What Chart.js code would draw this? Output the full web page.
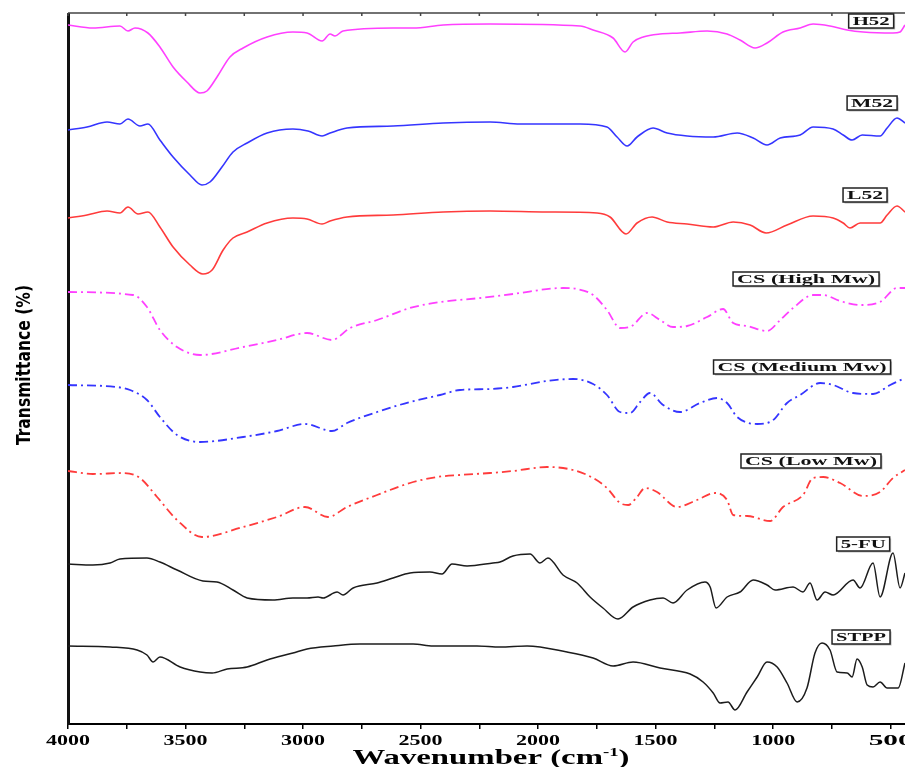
<!DOCTYPE html>
<html>
<head>
<meta charset="utf-8">
<script src="https://cdn.jsdelivr.net/npm/chart.js@4.4.0/dist/chart.umd.min.js"></script>
<style>
    html, body { margin: 0; padding: 0; background: #fff; }
    #wrap { width: 905px; height: 767px; position: relative; }
</style>
</head>
<body>
<div id="wrap"><canvas id="grafico"></canvas></div>
<script>
// Wavenumbers (cm-1) and stacked transmittance values (offset units)
const h52Wn = [4000,3894,3779,3745,3715,3660,3609,3553,3494,3438,3409,3366,3311,3255,3153,3043,2983,2919,2885,2864,2830,2617,2532,2404,2204,1821,1766,1681,1630,1596,1553,1481,1396,1281,1196,1141,1077,1026,958,885,830,758,685,617,490,460,439];
const h52T  = [699,696,698,693,696,691,677,657,642,631,633,647,667,676,687,692,691,683,690,688,693,696,696,699,700,698,694,686,672,682,687,690,691,693,690,684,676,681,692,696,700,698,694,692,691,692,699];

const m52Wn = [4000,3919,3834,3779,3745,3694,3660,3609,3553,3481,3430,3396,3345,3298,3238,3153,3043,2979,2919,2885,2813,2617,2404,2204,2077,1821,1707,1664,1621,1579,1511,1451,1366,1255,1153,1085,1026,970,885,830,745,702,664,621,545,515,473,439];
const m52T  = [594,597,602,600,605,598,600,584,567,549,539,542,557,572,581,591,595,593,588,591,596,598,601,602,600,600,597,587,578,587,596,591,588,587,591,586,579,586,589,597,595,589,584,589,588,596,606,601];

const l52Wn = [4000,3919,3834,3779,3745,3702,3660,3609,3553,3481,3426,3387,3340,3298,3238,3153,3043,2983,2919,2885,2813,2617,2404,2204,1962,1749,1694,1626,1579,1515,1451,1366,1255,1170,1098,1030,941,830,745,702,673,630,545,515,473,439];
const l52T  = [506,509,513,511,517,510,512,497,477,459,450,454,474,486,492,501,506,505,500,503,507,509,512,513,512,511,507,490,501,507,502,500,497,502,499,491,499,508,506,501,496,501,501,509,518,512];

const csHighWn = [4000,3723,3664,3609,3536,3438,3255,3111,2983,2877,2800,2685,2545,2417,2247,2107,1894,1834,1766,1707,1651,1609,1536,1481,1426,1366,1281,1213,1170,1111,1026,970,915,830,787,715,630,545,473,439];
const csHighT  = [432,429,417,394,377,369,377,384,391,384,396,404,416,422,426,430,436,435,429,414,396,397,411,404,397,398,407,415,401,398,393,404,416,429,429,423,419,422,436,436];

const csMedWn = [4000,3792,3736,3664,3609,3536,3438,3255,3111,2992,2877,2813,2685,2545,2417,2332,2204,2107,1962,1851,1766,1707,1651,1609,1566,1524,1468,1396,1311,1238,1196,1153,1068,1000,941,885,800,745,660,575,502,439];
const csMedT  = [339,337,334,324,307,289,282,287,293,300,293,301,312,322,329,334,335,337,343,345,340,329,312,311,322,331,319,312,321,326,321,307,300,304,321,329,341,339,331,330,339,346];

const csLowWn = [4000,3894,3766,3694,3621,3536,3430,3255,3111,2992,2894,2813,2685,2545,2430,2332,2204,2107,1962,1851,1766,1707,1651,1617,1579,1545,1494,1409,1324,1247,1196,1170,1111,1013,958,873,830,787,715,617,545,490,439];
const csLowT  = [253,250,251,246,227,204,187,197,207,217,207,217,229,241,247,249,251,253,257,254,246,236,221,219,227,236,232,217,224,231,224,209,208,203,217,229,246,247,241,228,232,246,254];

const fuWn = [4000,3894,3821,3779,3664,3609,3536,3426,3366,3298,3238,3128,3043,2983,2936,2915,2855,2830,2787,2685,2617,2545,2460,2409,2366,2302,2192,2162,2107,2034,1992,1958,1894,1834,1779,1724,1660,1596,1524,1468,1426,1366,1290,1268,1243,1196,1141,1085,1026,992,915,873,843,813,779,745,660,630,575,545,490,460,439];
const fuT  = [160,159,161,165,166,162,154,143,142,134,126,124,126,126,127,126,132,129,136,141,146,151,152,150,160,158,161,162,168,170,161,166,149,141,127,116,105,117,124,126,121,134,142,137,116,127,132,144,139,134,137,132,141,124,132,129,144,136,161,127,171,136,151];

const stppWn = [4000,3821,3706,3664,3638,3609,3523,3438,3387,3323,3238,3153,3043,2983,2872,2758,2617,2532,2447,2260,2162,2047,1877,1766,1681,1596,1481,1353,1298,1255,1226,1192,1162,1111,1068,1026,983,941,898,856,822,792,758,728,685,664,643,621,600,575,545,515,468,439];
const stppT  = [78,77,74,69,62,67,57,52,51,55,57,64,71,75,78,80,80,80,78,78,77,78,72,66,58,62,56,50,42,31,21,22,14,32,47,62,57,41,22,36,71,81,74,52,51,47,65,57,39,37,42,36,36,61];

// Axis ticks
const majorTicks = [4000, 3500, 3000, 2500, 2000, 1500, 1000, 500];
const minorTicks = [3750, 3250, 2750, 2250, 1750, 1250, 750];

// Series labels (boxes) anchored in data coordinates
const etiquetas = [
    { texto: 'H52', wn: 583, t: 703, ancho: 45 },
    { texto: 'M52', wn: 579, t: 621, ancho: 50 },
    { texto: 'L52', wn: 609, t: 529, ancho: 44 },
    { texto: 'CS (High Mw)', wn: 860, t: 445, ancho: 146 },
    { texto: 'CS (Medium Mw)', wn: 877, t: 357, ancho: 177 },
    { texto: 'CS (Low Mw)', wn: 839, t: 263, ancho: 140 },
    { texto: '5-FU', wn: 617, t: 180, ancho: 53 },
    { texto: 'STPP', wn: 626, t: 87, ancho: 58 }
];

const puntos = (wn, t) => wn.map((w, i) => ({ x: w, y: t[i] }));

const MAGENTA = '#ff40ff';
const AZUL = '#3535ff';
const ROJO = '#ff3b3b';
const NEGRO = '#1c1c1c';
const dashDot = [9, 4, 2, 4];

function serie(label, wn, t, color, dash, width) {
    return {
        label: label,
        data: puntos(wn, t),
        borderColor: color,
        borderWidth: width,
        borderDash: dash,
        pointRadius: 0,
        fill: false,
        cubicInterpolationMode: 'monotone'
    };
}

// Draws a string stretched horizontally to a given width
function textoEstirado(ctx, piezas, cx, baseline, anchoTotal) {
    let w = 0;
    piezas.forEach(p => { ctx.font = p.font; w += ctx.measureText(p.txt).width; });
    const sx = anchoTotal / w;
    ctx.save();
    ctx.translate(cx - anchoTotal / 2, baseline);
    ctx.scale(sx, 1);
    let x = 0;
    piezas.forEach(p => {
        ctx.font = p.font;
        ctx.fillText(p.txt, x, p.dy || 0);
        x += ctx.measureText(p.txt).width;
    });
    ctx.restore();
}

const decoraciones = {
    id: 'decoraciones',
    afterDraw(chart) {
        const ctx = chart.ctx;
        const xs = chart.scales.x;
        const ys = chart.scales.y;
        const area = chart.chartArea;

        ctx.save();
        ctx.fillStyle = '#000';
        ctx.textBaseline = 'alphabetic';
        ctx.textAlign = 'left';

        // top frame with small ticks
        ctx.strokeStyle = '#444';
        ctx.lineWidth = 1.5;
        ctx.beginPath();
        ctx.moveTo(area.left, area.top - 1);
        ctx.lineTo(area.right, area.top - 1);
        majorTicks.concat(minorTicks).forEach(v => {
            const px = xs.getPixelForValue(v);
            ctx.moveTo(px, area.top - 1);
            ctx.lineTo(px, area.top + 2);
        });
        ctx.stroke();

        // x tick labels
        majorTicks.forEach(v => {
            const px = xs.getPixelForValue(v);
            textoEstirado(ctx, [{ txt: String(v), font: 'bold 15px "Liberation Serif", serif' }], px, 745, 44);
        });

        // x axis title
        const fT = 'bold 21px "Liberation Serif", serif';
        const fS = 'bold 12px "Liberation Serif", serif';
        textoEstirado(ctx, [
            { txt: 'Wavenumber (cm', font: fT },
            { txt: '-1', font: fS, dy: -8 },
            { txt: ')', font: fT }
        ], 491, 764, 277);

        // y axis title
        ctx.save();
        ctx.translate(30, 365);
        ctx.rotate(-Math.PI / 2);
        textoEstirado(ctx, [{ txt: 'Transmittance (%)', font: 'bold 20px "Liberation Sans Narrow", "DejaVu Sans Condensed", sans-serif' }], 0, 0, 160);
        ctx.restore();

        // boxed series labels
        etiquetas.forEach(e => {
            const cx = xs.getPixelForValue(e.wn);
            const cy = ys.getPixelForValue(e.t);
            const h = 14;
            ctx.fillStyle = '#bbb';
            ctx.fillRect(cx - e.ancho / 2 + 1.5, cy - h / 2 + 1.5, e.ancho, h);
            ctx.fillStyle = '#fff';
            ctx.fillRect(cx - e.ancho / 2, cy - h / 2, e.ancho, h);
            ctx.strokeStyle = '#222';
            ctx.lineWidth = 1.5;
            ctx.strokeRect(cx - e.ancho / 2, cy - h / 2, e.ancho, h);
            ctx.fillStyle = '#111';
            textoEstirado(ctx, [{ txt: e.texto, font: 'bold 12px "Liberation Serif", serif' }], cx, cy + 4, e.ancho - 8);
        });

        ctx.restore();
    }
};

new Chart(document.getElementById('grafico').getContext('2d'), {
    type: 'line',
    data: {
        datasets: [
            serie('H52', h52Wn, h52T, MAGENTA, [], 1.6),
            serie('M52', m52Wn, m52T, AZUL, [], 1.6),
            serie('L52', l52Wn, l52T, ROJO, [], 1.6),
            serie('CS (High Mw)', csHighWn, csHighT, MAGENTA, dashDot, 1.8),
            serie('CS (Medium Mw)', csMedWn, csMedT, AZUL, dashDot, 1.8),
            serie('CS (Low Mw)', csLowWn, csLowT, ROJO, dashDot, 1.8),
            serie('5-FU', fuWn, fuT, NEGRO, [], 1.5),
            serie('STPP', stppWn, stppT, NEGRO, [], 1.5)
        ]
    },
    options: {
        responsive: true,
        maintainAspectRatio: false,
        animation: false,
        layout: { padding: { top: 14, right: 0, left: 0, bottom: 0 } },
        plugins: {
            legend: { display: false },
            tooltip: { enabled: false }
        },
        scales: {
            x: {
                type: 'linear',
                reverse: true,
                min: 439,
                max: 4000,
                afterBuildTicks: scale => {
                    scale.ticks = majorTicks.concat(minorTicks).map(v => ({ value: v }));
                },
                afterFit: scale => { scale.height = 43; },
                ticks: { display: false },
                grid: {
                    display: true,
                    drawOnChartArea: false,
                    drawTicks: true,
                    tickLength: 5,
                    color: '#000',
                    lineWidth: 1.5
                },
                border: { display: true, color: '#000', width: 2 }
            },
            y: {
                min: 0,
                max: 710,
                afterFit: scale => { scale.width = 68; },
                ticks: { display: false },
                grid: { display: false, drawTicks: false },
                border: { display: true, color: '#111', width: 3 }
            }
        }
    },
    plugins: [decoraciones]
});
</script>
</body>
</html>
